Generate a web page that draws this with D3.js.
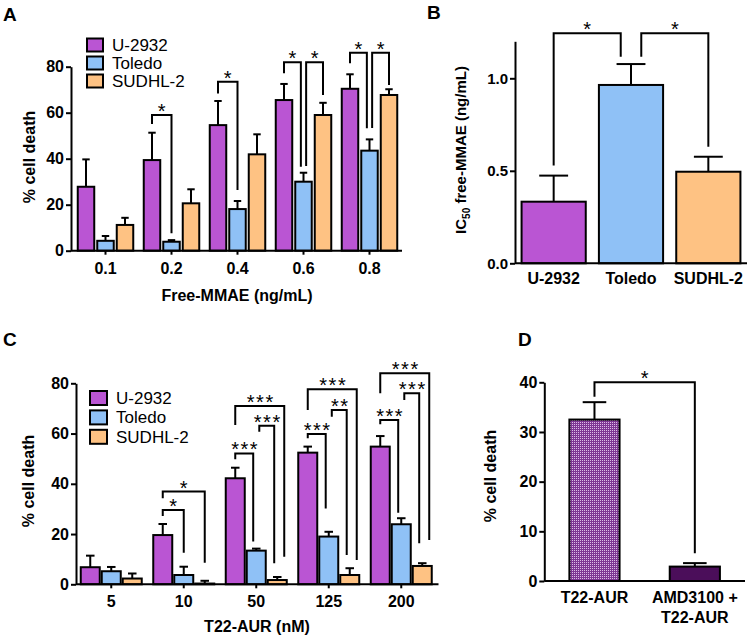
<!DOCTYPE html>
<html><head><meta charset="utf-8">
<script src="https://cdn.jsdelivr.net/npm/d3@7"></script>
<style>body{margin:0;background:#fff}</style>
</head><body>
<script>
// ---------------- DATA ----------------
const seriesNames = ["U-2932", "Toledo", "SUDHL-2"];

// Panel A: % cell death vs free-MMAE (ng/mL)
const aCategories = ["0.1", "0.2", "0.4", "0.6", "0.8"];
const aU2932     = [27.8, 39.4, 54.6, 65.5, 70.4];
const aU2932Err  = [11.9, 11.9, 10.5, 7.0, 6.3];
const aToledo    = [4.3, 3.9, 18.1, 30.0, 43.5];
const aToledoErr = [2.1, 0.7, 3.5, 3.9, 4.9];
const aSUDHL2    = [11.2, 20.6, 41.9, 59.0, 67.7];
const aSUDHL2Err = [3.1, 6.1, 8.7, 5.3, 2.5];
const aYTicks = [0, 20, 40, 60, 80];
// [category, fromSeries, toSeries, top, leftLegEnd, rightLegEnd, label] (data units)
const aBrackets = [
  ["0.2", 0, 1, 59.0, 55.1, 7.6, "*"],
  ["0.4", 0, 1, 73.5, 68.4, 26.4, "*"],
  ["0.6", 0, 1, 81.9, 77.1, 36.5, "*"],
  ["0.6", 1, 2, 81.9, 36.8, 67.7, "*"],
  ["0.8", 0, 1, 86.1, 81.5, 53.2, "*"],
  ["0.8", 1, 2, 86.1, 53.3, 72.0, "*"]
];

// Panel B: IC50 free-MMAE (ng/mL)
const bCategories = ["U-2932", "Toledo", "SUDHL-2"];
const bIC50    = [0.333, 0.964, 0.495];
const bIC50Err = [0.141, 0.113, 0.081];
const bYTicks = [0, 0.5, 1.0];
const bBrackets = [
  [0, 1, 1.243, 0.528, 1.117, "*"],
  [1, 2, 1.243, 1.117, 0.630, "*"]
];

// Panel C: % cell death vs T22-AUR (nM)
const cCategories = ["5", "10", "50", "125", "200"];
const cU2932     = [6.8, 19.6, 42.2, 52.4, 54.8];
const cU2932Err  = [4.6, 4.4, 4.2, 2.4, 4.2];
const cToledo    = [5.2, 3.7, 13.4, 19.0, 23.9];
const cToledoErr = [1.7, 3.3, 0.8, 1.9, 2.4];
const cSUDHL2    = [2.3, 0.3, 1.7, 3.7, 7.3];
const cSUDHL2Err = [2.0, 1.1, 1.2, 2.7, 1.1];
const cYTicks = [0, 20, 40, 60, 80];
const cBrackets = [
  ["10", 0, 1, 29.6, 27.2, 12.6, "*"],
  ["10", 0, 2, 36.9, 34.2, 8.6, "*"],
  ["50", 0, 1, 52.1, 49.8, 17.0, "***"],
  ["50", 1, 2, 63.1, 60.7, 8.4, "***"],
  ["50", 0, 2, 71.0, 63.4, 11.0, "***"],
  ["125", 0, 1, 59.8, 58.1, 30.2, "***"],
  ["125", 1, 2, 69.4, 66.7, 11.7, "**"],
  ["125", 0, 2, 77.6, 69.4, 9.7, "***"],
  ["200", 0, 1, 65.4, 63.7, 28.5, "***"],
  ["200", 1, 2, 76.0, 73.4, 16.3, "***"],
  ["200", 0, 2, 84.0, 76.0, 17.6, "***"]
];

// Panel D: % cell death
const dCategories = ["T22-AUR", "AMD3100 + T22-AUR"];
const dCategoryLines = [["T22-AUR"], ["AMD3100 +", "T22-AUR"]];
const dValues = [32.5, 2.9];
const dErr = [3.5, 0.7];
const dYTicks = [0, 10, 20, 30, 40];
const dBrackets = [[0, 1, 40.0, 37.1, 5.6, "*"]];

// ---------------- STYLE ----------------
const FF = "Arial, 'Liberation Sans', Helvetica, sans-serif";
const seriesColors = ["#ba55d3", "#8fc1f6", "#fec283"];
const SW = 2;

const svg = d3.select("body").append("svg").attr("width", 750).attr("height", 640)
  .style("font-family", FF);

const defs = svg.append("defs");
const pat = defs.append("pattern").attr("id", "checker").attr("patternUnits", "userSpaceOnUse")
  .attr("width", 2).attr("height", 2);
pat.append("rect").attr("width", 2).attr("height", 2).attr("fill", "#7e3694");
pat.append("rect").attr("width", 1).attr("height", 1).attr("fill", "#dcbde6");

function yAxis(g, y, ticks, x0, fmt, fs) {
  const a = g.append("g").attr("transform", `translate(${x0},0)`)
    .call(d3.axisLeft(y).tickValues(ticks).tickSize(5).tickSizeOuter(0).tickPadding(2).tickFormat(fmt));
  a.attr("font-family", FF);
  a.selectAll("path,line").attr("stroke", "#000").attr("stroke-width", SW);
  a.selectAll("text").attr("font-family", FF).attr("font-weight", "bold")
    .attr("font-size", fs).attr("fill", "#000");
}

function yTitle(g, x, y, text, fs) {
  return g.append("text").attr("transform", `translate(${x},${y}) rotate(-90)`)
    .attr("text-anchor", "middle").attr("font-weight", "bold").attr("font-size", fs).text(text);
}

function panelLabel(x, y, t) {
  svg.append("text").attr("x", x).attr("y", y).attr("font-weight", "bold")
    .attr("font-size", 19).text(t);
}

function errorBar(g, cx, yTop, yErr, cw) {
  g.append("line").attr("x1", cx).attr("x2", cx).attr("y1", yTop).attr("y2", yErr)
    .attr("stroke", "#000").attr("stroke-width", SW);
  g.append("line").attr("x1", cx - cw / 2).attr("x2", cx + cw / 2).attr("y1", yErr).attr("y2", yErr)
    .attr("stroke", "#000").attr("stroke-width", SW);
}

// compute horizontal leg offsets so brackets sharing a bar don't overlap
function legOffsets(list, keyOf, bw) {
  const k = bw * 0.16;
  const ends = {};
  list.forEach((b, i) => {
    const kl = keyOf(b, b.from), kr = keyOf(b, b.to);
    (ends[kl] = ends[kl] || []).push({ i, side: "L", span: b.to - b.from });
    (ends[kr] = ends[kr] || []).push({ i, side: "R", span: b.to - b.from });
  });
  const off = list.map(() => ({ L: 0, R: 0 }));
  Object.values(ends).forEach(arr => {
    if (arr.length < 2) return;
    const Ls = arr.filter(e => e.side === "L"), Rs = arr.filter(e => e.side === "R");
    if (Ls.length && Rs.length) {
      Rs.forEach(e => off[e.i].R = -k);
      Ls.forEach(e => off[e.i].L = k);
    } else if (Rs.length > 1) {
      Rs.sort((a, b) => a.span - b.span);
      off[Rs[0].i].R = -k;
      Rs.slice(1).forEach(e => off[e.i].R = 2.3 * k);
    }
  });
  return off;
}

function drawBracket(g, x1, x2, yTop, yL, yR, label) {
  g.append("path").attr("d", `M${x1},${yL}V${yTop}H${x2}V${yR}`)
    .attr("fill", "none").attr("stroke", "#000").attr("stroke-width", SW);
  g.append("text").attr("x", (x1 + x2) / 2 + (label.length > 1 ? 1 : 0)).attr("y", yTop + 3)
    .attr("text-anchor", "middle")
    .attr("font-size", 20).attr("letter-spacing", label.length > 1 ? 1.5 : 0).text(label);
}

function grouped(cfg) {
  const g = svg.append("g");
  const x = d3.scaleBand().domain(cfg.cats).range(cfg.xRange);
  const xi = d3.scaleBand().domain(d3.range(cfg.series.length)).range([-cfg.half, cfg.half]).paddingInner(cfg.pad);
  const y = d3.scaleLinear().domain([0, 80]).range(cfg.yRange);
  const bw = xi.bandwidth();
  const gc = c => x(c) + x.bandwidth() / 2;
  const cx = (c, s) => gc(c) + xi(s) + bw / 2;

  cfg.series.forEach((vals, s) => vals.forEach((v, i) => {
    const c = cfg.cats[i];
    errorBar(g, cx(c, s), y(v), y(v + cfg.errs[s][i]), bw * 0.45);
  }));
  cfg.series.forEach((vals, s) => vals.forEach((v, i) => {
    const c = cfg.cats[i];
    g.append("rect").attr("x", cx(c, s) - bw / 2).attr("y", y(v)).attr("width", bw)
      .attr("height", y(0) - y(v)).attr("fill", seriesColors[s]).attr("stroke", "#000").attr("stroke-width", SW);
  }));
  yAxis(g, y, cfg.yTicks, cfg.axisX0, d3.format("d"), 16);
  g.append("line").attr("x1", cfg.axisX0).attr("x2", cfg.axisX1).attr("y1", y(0)).attr("y2", y(0))
    .attr("stroke", "#000").attr("stroke-width", SW);
  cfg.cats.forEach(c => {
    g.append("line").attr("x1", gc(c)).attr("x2", gc(c)).attr("y1", y(0)).attr("y2", y(0) + 4)
      .attr("stroke", "#000").attr("stroke-width", SW);
    g.append("text").attr("x", gc(c)).attr("y", y(0) + 23).attr("text-anchor", "middle")
      .attr("font-weight", "bold").attr("font-size", 16).text(c);
  });
  g.append("text").attr("x", cfg.xTitleX).attr("y", cfg.xTitleY).attr("text-anchor", "middle")
    .attr("font-weight", "bold").attr("font-size", 16).text(cfg.xTitle);
  yTitle(g, cfg.yTitleX, cfg.yTitleY, "% cell death", 16);

  const bl = cfg.brackets.map(b => ({ cat: b[0], from: b[1], to: b[2], top: b[3], l: b[4], r: b[5], label: b[6] }));
  const off = legOffsets(bl, (b, s) => b.cat + "|" + s, bw);
  bl.forEach((b, i) => {
    drawBracket(g, cx(b.cat, b.from) + off[i].L, cx(b.cat, b.to) + off[i].R, y(b.top), y(b.l), y(b.r), b.label);
  });

  const lg = g.append("g");
  seriesNames.forEach((n, s) => {
    const cy = cfg.legY + s * cfg.legStep;
    lg.append("rect").attr("x", cfg.legX).attr("y", cy - cfg.legH / 2).attr("width", cfg.legW).attr("height", cfg.legH)
      .attr("fill", seriesColors[s]).attr("stroke", "#000").attr("stroke-width", SW);
    lg.append("text").attr("x", cfg.legX + cfg.legW + 9).attr("y", cy + 6).attr("font-size", 17).text(n);
  });
}

// ---------------- PANEL A ----------------
grouped({
  cats: aCategories,
  series: [aU2932, aToledo, aSUDHL2],
  errs: [aU2932Err, aToledoErr, aSUDHL2Err],
  brackets: aBrackets,
  yTicks: aYTicks,
  xRange: [72.5, 402.5], half: 27.75, pad: 0.154,
  yRange: [250.7, 66.7],
  axisX0: 71, axisX1: 402,
  xTitle: "Free-MMAE (ng/mL)", xTitleX: 237, xTitleY: 301,
  yTitleX: 35, yTitleY: 157,
  legX: 87, legY: 45, legStep: 18, legW: 16, legH: 13
});
panelLabel(3, 21, "A");

// ---------------- PANEL C ----------------
grouped({
  cats: cCategories,
  series: [cU2932, cToledo, cSUDHL2],
  errs: [cU2932Err, cToledoErr, cSUDHL2Err],
  brackets: cBrackets,
  yTicks: cYTicks,
  xRange: [75, 437.5], half: 30.5, pad: 0.095,
  yRange: [584.3, 383.3],
  axisX0: 76, axisX1: 438.5,
  xTitle: "T22-AUR (nM)", xTitleX: 257, xTitleY: 632,
  yTitleX: 34, yTitleY: 481,
  legX: 90, legY: 398, legStep: 19.4, legW: 17, legH: 14
});
panelLabel(3, 346, "C");

// ---------------- PANEL B ----------------
(function () {
  const g = svg.append("g");
  const x = d3.scaleBand().domain(bCategories).range([515, 747]).paddingInner(0.17).paddingOuter(0.085);
  const y = d3.scaleLinear().domain([0, 1.2]).range([263.3, 41.3]);
  const bw = x.bandwidth();
  const cx = c => x(c) + bw / 2;
  bIC50.forEach((v, i) => errorBar(g, cx(bCategories[i]), y(v), y(v + bIC50Err[i]), bw * 0.45));
  bIC50.forEach((v, i) => {
    g.append("rect").attr("x", x(bCategories[i])).attr("y", y(v)).attr("width", bw).attr("height", y(0) - y(v))
      .attr("fill", seriesColors[i]).attr("stroke", "#000").attr("stroke-width", SW);
  });
  yAxis(g, y, bYTicks, 515, d3.format(".1f"), 15);
  g.append("line").attr("x1", 515).attr("x2", 747).attr("y1", y(0)).attr("y2", y(0))
    .attr("stroke", "#000").attr("stroke-width", SW);
  bCategories.forEach(c => g.append("text").attr("x", cx(c)).attr("y", y(0) + 21).attr("text-anchor", "middle")
    .attr("font-weight", "bold").attr("font-size", 16).text(c));
  const t = g.append("text").attr("transform", "translate(466,150) rotate(-90)").attr("text-anchor", "middle")
    .attr("font-weight", "bold").attr("font-size", 15);
  t.append("tspan").text("IC");
  t.append("tspan").attr("font-size", 10).attr("dy", 4).text("50");
  t.append("tspan").attr("dy", -4).text(" free-MMAE (ng/mL)");
  const bl = bBrackets.map(b => ({ from: b[0], to: b[1], top: b[2], l: b[3], r: b[4], label: b[5] }));
  const off = legOffsets(bl, (b, s) => "" + s, bw);
  bl.forEach((b, i) => drawBracket(g, cx(bCategories[b.from]) + off[i].L, cx(bCategories[b.to]) + off[i].R,
    y(b.top), y(b.l), y(b.r), b.label));
})();
panelLabel(427, 19, "B");

// ---------------- PANEL D ----------------
(function () {
  const g = svg.append("g");
  const x = d3.scaleBand().domain(dCategories).range([544.3, 745]).paddingInner(0.5).paddingOuter(0.25);
  const y = d3.scaleLinear().domain([0, 40]).range([581, 382.3]);
  const bw = x.bandwidth();
  const cx = c => x(c) + bw / 2;
  const fills = ["url(#checker)", "#4b0e5a"];
  dValues.forEach((v, i) => errorBar(g, cx(dCategories[i]), y(v), y(v + dErr[i]), bw * 0.47));
  dValues.forEach((v, i) => {
    g.append("rect").attr("x", x(dCategories[i])).attr("y", y(v)).attr("width", bw).attr("height", y(0) - y(v))
      .attr("fill", fills[i]).attr("stroke", "#000").attr("stroke-width", SW);
  });
  yAxis(g, y, dYTicks, 544.3, d3.format("d"), 16);
  g.append("line").attr("x1", 544.3).attr("x2", 745).attr("y1", y(0)).attr("y2", y(0))
    .attr("stroke", "#000").attr("stroke-width", SW);
  dCategories.forEach((c, i) => {
    dCategoryLines[i].forEach((ln, j) => g.append("text").attr("x", cx(c)).attr("y", y(0) + 21.5 + j * 20)
      .attr("text-anchor", "middle").attr("font-weight", "bold").attr("font-size", 16).text(ln));
  });
  yTitle(g, 496, 476, "% cell death", 16);
  dBrackets.forEach(b => drawBracket(g, cx(dCategories[b[0]]), cx(dCategories[b[1]]), y(b[2]), y(b[3]), y(b[4]), b[5]));
})();
panelLabel(518, 346, "D");
</script>
</body></html>
